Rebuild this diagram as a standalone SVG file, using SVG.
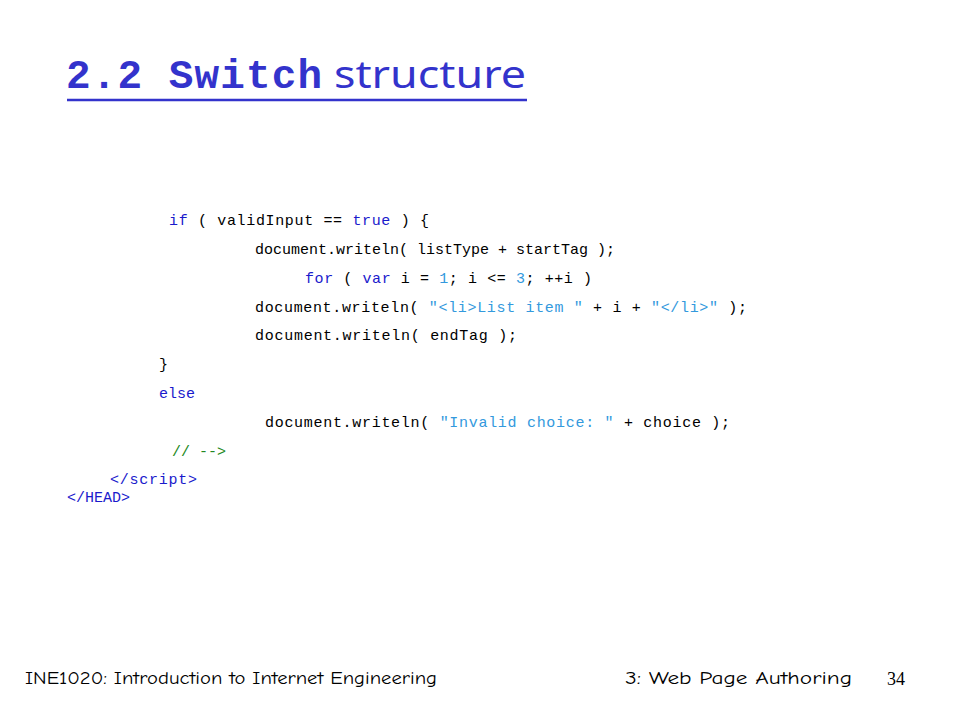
<svg xmlns="http://www.w3.org/2000/svg" width="960" height="720" viewBox="0 0 960 720">
<style>
.code{font-family:"Liberation Mono","Courier New",monospace;font-size:15px;fill:#000;white-space:pre}
.kw{fill:#1a1acc}
.str{fill:#3399dd}
.cm{fill:#228822}
.foot{font-family:"Comic Neue","Noto Sans","Liberation Sans",sans-serif;font-size:17px;fill:#000}
</style>
<rect width="960" height="720" fill="#fff"/>
<g id="title">
<text x="66" y="88" font-family="Liberation Mono,Courier New,monospace" font-weight="bold" font-size="41" fill="#3333cc" xml:space="preserve" textLength="256" lengthAdjust="spacing">2.2 Switch</text>
<text x="334" y="88" font-family="Noto Sans,Liberation Sans,sans-serif" font-size="38" fill="#3333cc" textLength="192" lengthAdjust="spacingAndGlyphs">structure</text>
<line x1="67" y1="100" x2="527" y2="100" stroke="#3333cc" stroke-width="2.5"/>
</g>
<g id="code">
<text class="code" x="169" y="225" xml:space="preserve" textLength="260" lengthAdjust="spacing"><tspan class="kw">if</tspan> ( validInput == <tspan class="kw">true</tspan> ) {</text>
<text class="code" x="255" y="254" xml:space="preserve">document.writeln( listType + startTag );</text>
<text class="code" x="305" y="283" xml:space="preserve" textLength="287" lengthAdjust="spacing"><tspan class="kw">for</tspan> ( <tspan class="kw">var</tspan> i = <tspan class="str">1</tspan>; i &lt;= <tspan class="str">3</tspan>; ++i )</text>
<text class="code" x="255" y="312" xml:space="preserve" textLength="492" lengthAdjust="spacing">document.writeln( <tspan class="str">"&lt;li&gt;List item "</tspan> + i + <tspan class="str">"&lt;/li&gt;"</tspan> );</text>
<text class="code" x="255" y="340" xml:space="preserve" textLength="262" lengthAdjust="spacing">document.writeln( endTag );</text>
<text class="code" x="159" y="369">}</text>
<text class="code kw" x="159" y="398">else</text>
<text class="code" x="265" y="427" xml:space="preserve" textLength="465" lengthAdjust="spacing">document.writeln( <tspan class="str">"Invalid choice: "</tspan> + choice );</text>
<text class="code cm" x="172" y="456" xml:space="preserve">// --&gt;</text>
<text class="code kw" x="110" y="484" textLength="87" lengthAdjust="spacing">&lt;/script&gt;</text>
<text class="code kw" x="67" y="502">&lt;/HEAD&gt;</text>
</g>
<g id="footer">
<text class="foot" x="25" y="684" textLength="412" lengthAdjust="spacingAndGlyphs">INE1020: Introduction to Internet Engineering</text>
<text class="foot" x="625" y="684" textLength="227" lengthAdjust="spacingAndGlyphs">3: Web Page Authoring</text>
<text x="887" y="685" font-family="Liberation Serif,Times New Roman,serif" font-size="18" fill="#000">34</text>
</g>
</svg>
